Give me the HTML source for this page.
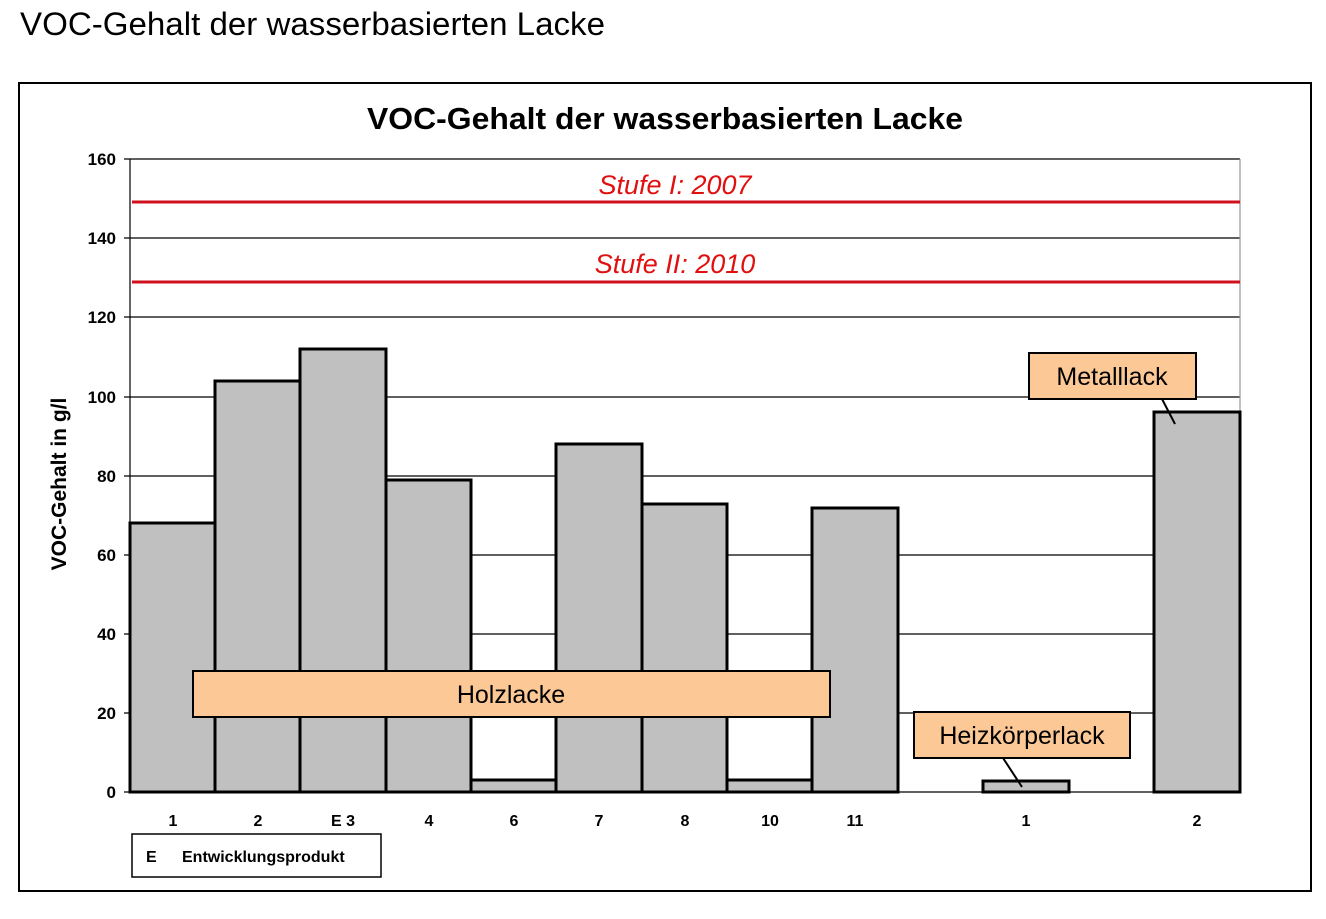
<!DOCTYPE html>
<html><head><meta charset="utf-8"><style>
body{margin:0;background:#fff;width:1326px;height:914px;overflow:hidden}
svg text{font-family:"Liberation Sans",Arial,sans-serif}
</style></head><body>
<svg width="1326" height="914" xmlns="http://www.w3.org/2000/svg">
<text x="20" y="35" font-size="32" textLength="585" lengthAdjust="spacingAndGlyphs" fill="#000">VOC-Gehalt der wasserbasierten Lacke</text>
<rect x="19" y="83" width="1292" height="808" fill="#fff" stroke="#000" stroke-width="2"/>
<text x="665" y="129" font-size="31" font-weight="bold" text-anchor="middle" textLength="596" lengthAdjust="spacingAndGlyphs">VOC-Gehalt der wasserbasierten Lacke</text>
<g stroke="#000" stroke-width="1.2">
<line x1="124" y1="159" x2="1240" y2="159"/>
<line x1="124" y1="238" x2="1240" y2="238"/>
<line x1="124" y1="317" x2="1240" y2="317"/>
<line x1="124" y1="397" x2="1240" y2="397"/>
<line x1="124" y1="476" x2="1240" y2="476"/>
<line x1="124" y1="555" x2="1240" y2="555"/>
<line x1="124" y1="634" x2="1240" y2="634"/>
<line x1="124" y1="713" x2="1240" y2="713"/>
<line x1="124" y1="792" x2="1240" y2="792"/>
<line x1="130" y1="159" x2="130" y2="792"/>
<line x1="1240" y1="159" x2="1240" y2="792" stroke="#999"/>
</g>
<g font-size="17" font-weight="bold" text-anchor="end">
<text x="116" y="165">160</text><text x="116" y="244">140</text><text x="116" y="323">120</text>
<text x="116" y="403">100</text><text x="116" y="482">80</text><text x="116" y="561">60</text>
<text x="116" y="640">40</text><text x="116" y="719">20</text><text x="116" y="798">0</text>
</g>
<text transform="translate(66,484) rotate(-90)" font-size="21" font-weight="bold" text-anchor="middle">VOC-Gehalt in g/l</text>
<line x1="132" y1="202" x2="1240" y2="202" stroke="#d0101c" stroke-width="3"/>
<line x1="132" y1="282" x2="1240" y2="282" stroke="#d0101c" stroke-width="3"/>
<text x="675" y="194" font-size="27" font-style="italic" fill="#e01010" text-anchor="middle">Stufe I: 2007</text>
<text x="675" y="273" font-size="27" font-style="italic" fill="#e01010" text-anchor="middle">Stufe II: 2010</text>
<g fill="#c0c0c0" stroke="#000" stroke-width="3">
<rect x="130" y="523" width="85" height="269"/>
<rect x="215" y="381" width="85" height="411"/>
<rect x="300" y="349" width="86" height="443"/>
<rect x="386" y="480" width="85" height="312"/>
<rect x="471" y="780" width="85" height="12"/>
<rect x="556" y="444" width="86" height="348"/>
<rect x="642" y="504" width="85" height="288"/>
<rect x="727" y="780" width="85" height="12"/>
<rect x="812" y="508" width="86" height="284"/>
<rect x="983" y="781" width="86" height="11"/>
<rect x="1154" y="412" width="86" height="380"/>
</g>
<g font-size="16" font-weight="bold" text-anchor="middle">
<text x="173" y="826">1</text><text x="258" y="826">2</text><text x="343" y="826">E 3</text>
<text x="429" y="826">4</text><text x="514" y="826">6</text><text x="599" y="826">7</text>
<text x="685" y="826">8</text><text x="770" y="826">10</text><text x="855" y="826">11</text>
<text x="1026" y="826">1</text><text x="1197" y="826">2</text>
</g>
<rect x="132" y="834" width="249" height="43" fill="#fff" stroke="#000" stroke-width="1.5"/>
<text x="146" y="862" font-size="16" font-weight="bold">E</text>
<text x="182" y="862" font-size="16" font-weight="bold">Entwicklungsprodukt</text>
<rect x="193" y="671" width="637" height="46" fill="#fcc895" stroke="#000" stroke-width="2"/>
<text x="511" y="703" font-size="25" text-anchor="middle">Holzlacke</text>
<line x1="1003" y1="758" x2="1022" y2="787" stroke="#000" stroke-width="2"/>
<rect x="914" y="712" width="216" height="46" fill="#fcc895" stroke="#000" stroke-width="2"/>
<text x="1022" y="744" font-size="25" text-anchor="middle">Heizkörperlack</text>
<line x1="1162" y1="399" x2="1175" y2="424" stroke="#000" stroke-width="2"/>
<rect x="1029" y="353" width="167" height="46" fill="#fcc895" stroke="#000" stroke-width="2"/>
<text x="1112" y="385" font-size="25" text-anchor="middle">Metalllack</text>
</svg>
</body></html>
